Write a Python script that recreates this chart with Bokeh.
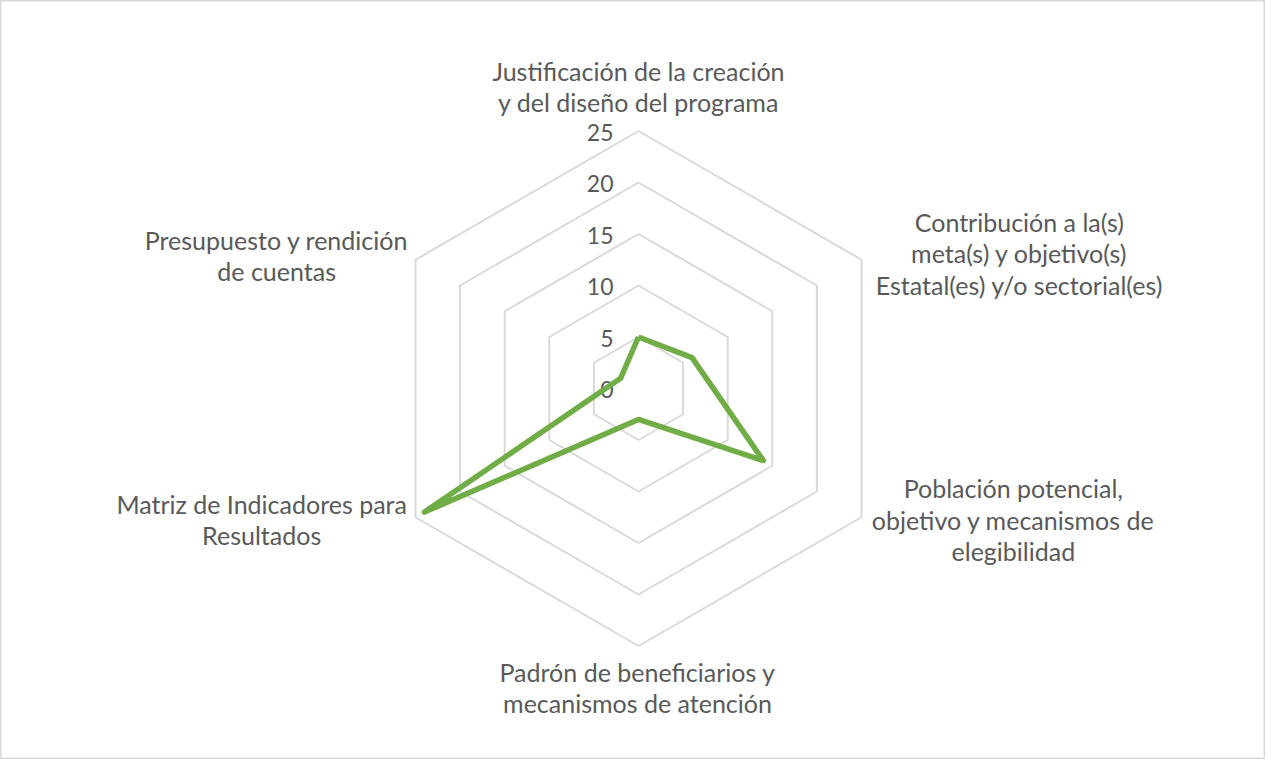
import math
from bokeh.plotting import figure
from bokeh.models import Range1d, ColumnDataSource
from bokeh.core.properties import value
from bokeh.embed import file_html
from bokeh.resources import INLINE

# ---- data ----
categories = [
    "Justificación de la creación\ny del diseño del programa",
    "Contribución a la(s)\nmeta(s) y objetivo(s)\nEstatal(es) y/o sectorial(es)",
    "Población potencial,\nobjetivo y mecanismos de\nelegibilidad",
    "Padrón de beneficiarios y\nmecanismos de atención",
    "Matriz de Indicadores para\nResultados",
    "Presupuesto y rendición\nde cuentas",
]
values = [5, 6, 14, 3, 24, 2]
tick_values = [0, 5, 10, 15, 20, 25]
tick_labels = ["0", "5", "10", "15", "20", "25"]

# ---- layout / styles ----
W, H = 1265, 759
scale = 10.3           # px per unit
cx, cy = 638, 388      # centre in plot px (from top-left)
label_r = 27
label_dx = [0, 140, 134, -1, -136, -121]
label_dy = [-24, 4, -8, 21, -8, 6]
FONT = value("Lato")
TXT = "#595959"
GRID = "#d9d9d9"
LINE = "#70AD47"
FS = "25px"
TICK_FS = "23px"

n = len(categories)
angles = [2 * math.pi * i / n for i in range(n)]

p = figure(width=W, height=H, output_backend="svg", toolbar_location=None,
           x_range=Range1d(-cx / scale, (W - cx) / scale),
           y_range=Range1d(-(H - cy) / scale, cy / scale),
           min_border=0, outline_line_color=GRID, outline_line_width=2)
p.axis.visible = False
p.grid.visible = False
p.background_fill_color = "white"
p.border_fill_color = "white"

# grid hexagons
xs, ys = [], []
for t in tick_values[1:]:
    hx = [t * math.sin(a) for a in angles]
    hy = [t * math.cos(a) for a in angles]
    xs.append(hx + hx[:1])
    ys.append(hy + hy[:1])
p.multi_line(xs, ys, line_color=GRID, line_width=2)

# tick labels
p.text(x=[0] * len(tick_values), y=tick_values, text=tick_labels,
       text_align="right", text_baseline="middle", x_offset=-25, y_offset=1,
       text_font=FONT, text_font_size=TICK_FS, text_color=TXT)

# data line
dx = [v * math.sin(a) for v, a in zip(values, angles)]
dy = [v * math.cos(a) for v, a in zip(values, angles)]
p.line(dx + dx[:1], dy + dy[:1], line_color=LINE, line_width=5.5, line_join="round")

# category labels
src = ColumnDataSource(dict(
    x=[label_r * math.sin(a) for a in angles],
    y=[label_r * math.cos(a) for a in angles],
    t=categories, xo=label_dx, yo=label_dy))
p.text(x="x", y="y", text="t", x_offset="xo", y_offset="yo", source=src,
       text_align="center", text_baseline="middle", text_line_height=1.04,
       text_font=FONT, text_font_size=FS, text_color=TXT)

open("out.html", "w").write(file_html(p, INLINE))
